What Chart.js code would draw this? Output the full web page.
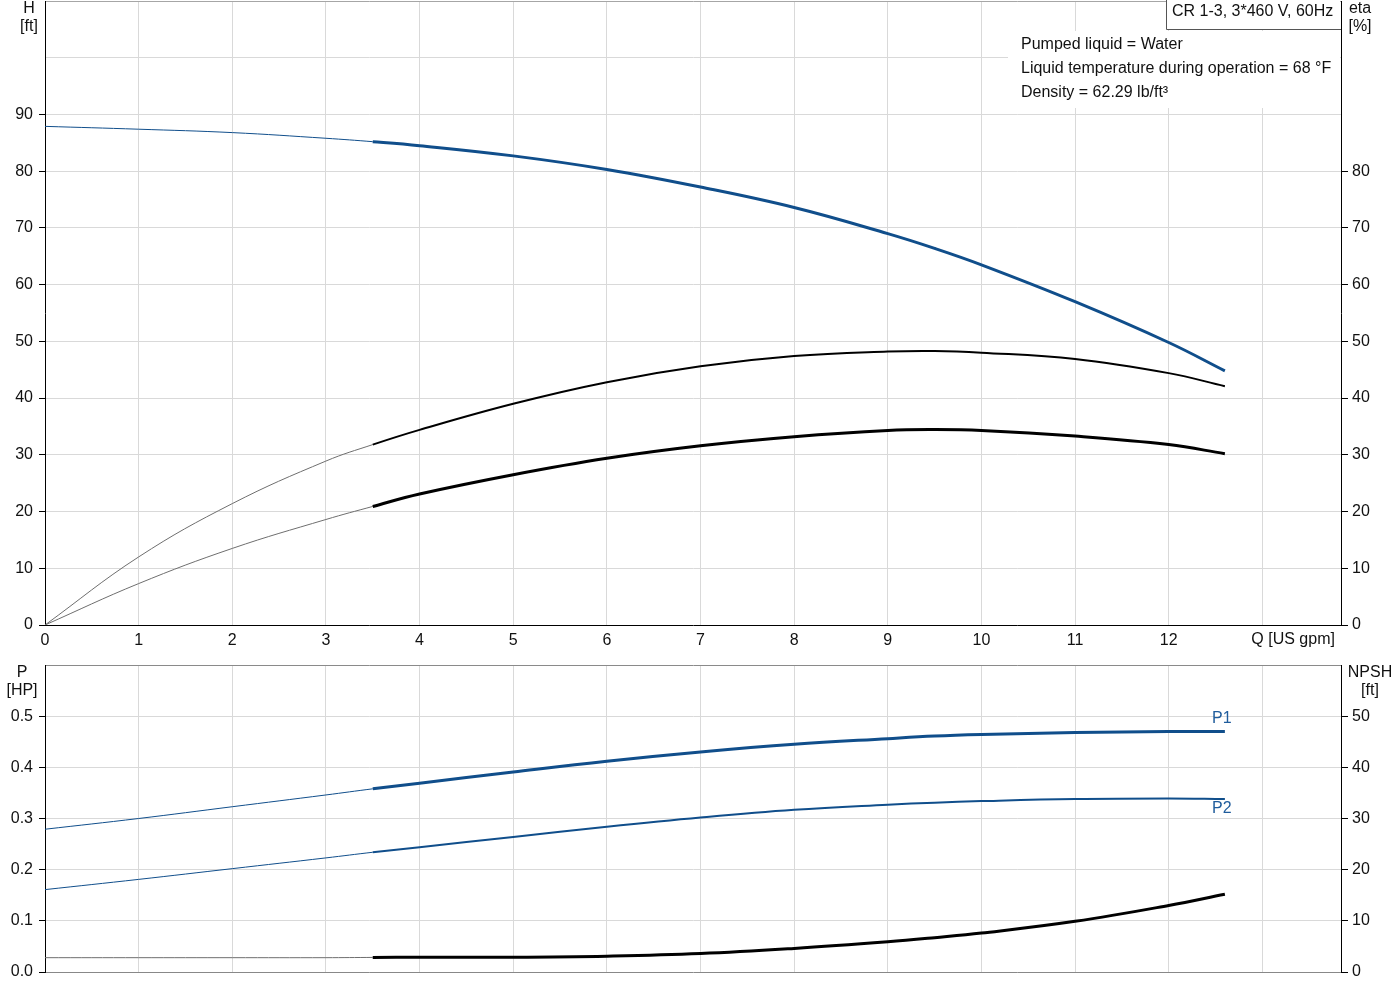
<!DOCTYPE html>
<html>
<head>
<meta charset="utf-8">
<script src="https://cdn.jsdelivr.net/npm/chart.js@4.4.1/dist/chart.umd.min.js"></script>
<style>
  body { margin: 0; background: #fff; }
  canvas { position: absolute; left: 0; }
  #topChart { top: 0; }
  #bottomChart { top: 655px; }
</style>
</head>
<body>
<canvas id="topChart" width="1400" height="650"></canvas>
<canvas id="bottomChart" width="1400" height="345"></canvas>
<script>
// flow in US gpm
const flowQ    = [0, 1, 2, 3, 3.5, 4, 5, 6, 7, 8, 9, 9.5, 10, 11, 12, 12.6];
const headH    = [87.9, 87.4, 86.8, 85.8, 85.2, 84.5, 82.7, 80.3, 77.2, 73.6, 69.0, 66.4, 63.5, 57.0, 49.8, 44.8];
const etaPump  = [0, 12.0, 21.4, 28.9, 31.8, 34.4, 39.0, 42.8, 45.6, 47.4, 48.2, 48.3, 48.0, 46.9, 44.4, 42.1];
const etaTotal = [0, 7.3, 13.5, 18.6, 20.9, 23.1, 26.5, 29.4, 31.6, 33.2, 34.3, 34.45, 34.3, 33.3, 31.8, 30.2];
const powerP1  = [0.279, 0.300, 0.323, 0.346, 0.358, 0.369, 0.391, 0.412, 0.430, 0.445, 0.456, 0.461, 0.464, 0.468, 0.470, 0.470];
const powerP2  = [0.161, 0.181, 0.202, 0.223, 0.234, 0.244, 0.264, 0.284, 0.302, 0.317, 0.327, 0.331, 0.334, 0.338, 0.339, 0.338];
const npshR    = [2.8, 2.8, 2.8, 2.8, 2.85, 2.9, 2.9, 3.1, 3.6, 4.6, 5.9, 6.7, 7.6, 9.9, 13.0, 15.2];

// ticks
const qTicks    = [0, 1, 2, 3, 4, 5, 6, 7, 8, 9, 10, 11, 12, 13];
const headTicks = [0, 10, 20, 30, 40, 50, 60, 70, 80, 90, 100, 110];
const etaTicks  = [0, 10, 20, 30, 40, 50, 60, 70, 80, 90, 100, 110];
const pTicks    = [0, 0.1, 0.2, 0.3, 0.4, 0.5, 0.6];
const npshTicks = [0, 10, 20, 30, 40, 50, 60];

const DUTY_FROM = 3.5;   // thick part of the curves starts here
const BLUE = '#104e8b';
const FONT = "16px 'Liberation Sans', Arial, sans-serif";
const GRID = '#d9d9d9';
const NONE = 'rgba(0,0,0,0)';

Chart.defaults.font.family = "'Liberation Sans', Arial, sans-serif";
Chart.defaults.font.size = 16;
Chart.defaults.color = '#111';

function curve(values, color, thick, axis) {
  const thin = color === BLUE ? BLUE : '#6e6e6e';
  return {
    data: flowQ.map((q, i) => ({ x: q, y: values[i] })),
    yAxisID: axis,
    borderColor: color,
    borderWidth: thick,
    tension: 0.4,
    pointRadius: 0,
    segment: {
      borderWidth: s => s.p0.parsed.x >= DUTY_FROM ? thick : 1,
      borderColor: s => s.p0.parsed.x >= DUTY_FROM ? color : thin
    }
  };
}

function setTicks(list) {
  return s => { s.ticks = list.map(v => ({ value: v })); };
}

function xScale(height, showLabels) {
  return {
    type: 'linear', min: 0, max: 13.84,
    afterBuildTicks: setTicks(qTicks),
    afterFit: s => { s.height = height; s.paddingLeft = 0; s.paddingRight = 0; },
    grid: { color: c => (c.tick && c.tick.value === 0) ? NONE : GRID, drawTicks: false },
    border: { color: showLabels ? '#000' : '#888' },
    ticks: { display: showLabels, padding: 6, maxRotation: 0, autoSkip: false,
             callback: v => v <= 12 ? String(v) : '' }
  };
}

function yScale(pos, max, list, lastLabel, width, fmt, topColor) {
  const left = pos === 'left';
  return {
    type: 'linear', position: pos, min: 0, max: max,
    afterBuildTicks: setTicks(list),
    afterFit: s => { s.width = width; s.paddingTop = 0; s.paddingBottom = 0; },
    grid: {
      drawOnChartArea: left,
      color: c => {
        if (!c.tick) return GRID;
        if (c.tick.value === 0) return NONE;
        if (c.tick.value === max) return topColor;
        return GRID;
      },
      tickLength: left ? 6 : 7,
      tickColor: c => (c.tick && c.tick.value > lastLabel + 1e-9) ? NONE : '#000'
    },
    border: { color: '#000' },
    ticks: { padding: left ? 6 : 4, callback: v => v <= lastLabel + 1e-9 ? fmt(v) : '' }
  };
}

const topText = {
  id: 'topText',
  afterDraw(chart) {
    const c = chart.ctx;
    const x = chart.scales.x;
    c.save();
    c.font = FONT;
    c.fillStyle = '#111';
    c.textBaseline = 'middle';
    c.textAlign = 'center';
    c.fillText('H', 29, 9);
    c.fillText('[ft]', 29, 27);
    c.fillText('eta', 1360, 9);
    c.fillText('[%]', 1360, 27);
    c.textAlign = 'left';
    c.fillText('Q [US gpm]', x.getPixelForValue(13) - 11, 640);

    // info block
    c.fillStyle = '#fff';
    c.fillRect(1008, 31, 332, 77);
    c.fillRect(1167, 1, 173, 28);
    c.strokeStyle = '#555';
    c.lineWidth = 1;
    c.beginPath();
    c.moveTo(1166.5, 0);
    c.lineTo(1166.5, 29.5);
    c.lineTo(1341, 29.5);
    c.stroke();
    c.fillStyle = '#111';
    c.fillText('CR 1-3, 3*460 V, 60Hz', 1172, 12);
    c.fillText('Pumped liquid = Water', 1021, 45);
    c.fillText('Liquid temperature during operation = 68 °F', 1021, 69);
    c.fillText('Density = 62.29 lb/ft³', 1021, 93);
    c.restore();
  }
};

const bottomText = {
  id: 'bottomText',
  afterDraw(chart) {
    const c = chart.ctx;
    const x = chart.scales.x, yP = chart.scales.yP;
    const last = flowQ.length - 1;
    c.save();
    c.font = FONT;
    c.fillStyle = '#111';
    c.textBaseline = 'middle';
    c.textAlign = 'center';
    c.fillText('P', 22, 18);
    c.fillText('[HP]', 22, 36);
    c.fillText('NPSH', 1370, 18);
    c.fillText('[ft]', 1370, 36);
    c.fillStyle = '#1f5c9c';
    const xe = x.getPixelForValue(flowQ[last]) - 3;
    c.fillText('P1', xe, yP.getPixelForValue(powerP1[last]) - 13);
    c.fillText('P2', xe, yP.getPixelForValue(powerP2[last]) + 10);
    c.restore();
  }
};

const common = {
  responsive: false,
  animation: false,
  events: [],
  plugins: { legend: { display: false }, tooltip: { enabled: false } }
};

new Chart(document.getElementById('topChart'), {
  type: 'line',
  data: {
    datasets: [
      curve(headH, BLUE, 3, 'y'),
      curve(etaPump, '#000', 2, 'y2'),
      curve(etaTotal, '#000', 3, 'y2')
    ]
  },
  options: Object.assign({}, common, {
    layout: { padding: { top: 1, left: 0, right: 0, bottom: 0 } },
    scales: {
      x: xScale(25, true),
      y: yScale('left', 110, headTicks, 90, 45, v => String(v), '#a6a6a6'),
      y2: yScale('right', 110, etaTicks, 80, 59, v => String(v), '#a6a6a6')
    }
  }),
  plugins: [topText]
});

new Chart(document.getElementById('bottomChart'), {
  type: 'line',
  data: {
    datasets: [
      curve(powerP1, BLUE, 3, 'yP'),
      curve(powerP2, BLUE, 2, 'yP'),
      curve(npshR, '#000', 3, 'yN')
    ]
  },
  options: Object.assign({}, common, {
    layout: { padding: { top: 10, left: 0, right: 0, bottom: 0 } },
    scales: {
      x: xScale(28, false),
      yP: yScale('left', 0.6, pTicks, 0.5, 45, v => v.toFixed(1), '#8a8a8a'),
      yN: yScale('right', 60, npshTicks, 50, 59, v => String(v), '#8a8a8a')
    }
  }),
  plugins: [bottomText]
});
</script>
</body>
</html>
